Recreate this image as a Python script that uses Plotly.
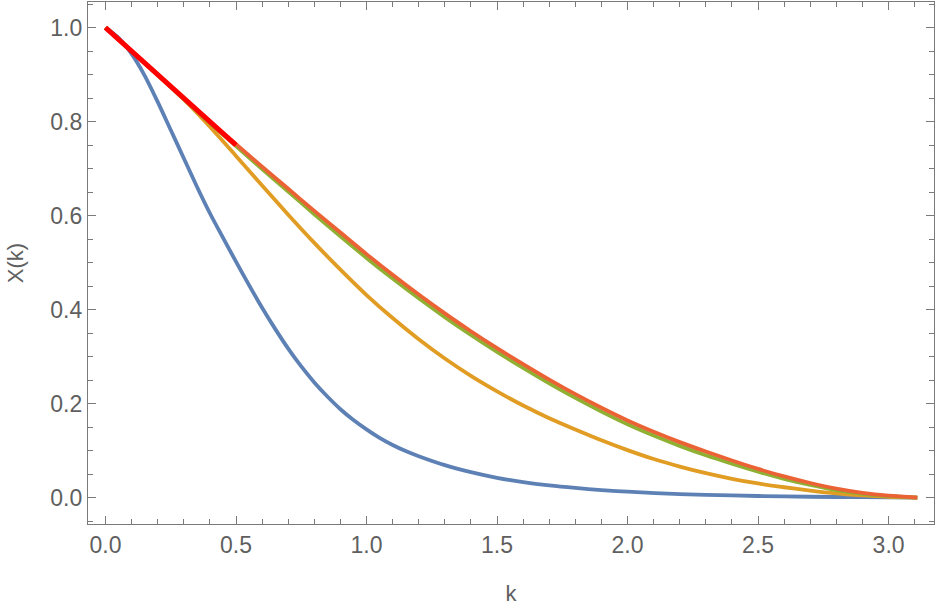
import plotly.graph_objects as go

k_blue = [0.0, 0.05, 0.1, 0.15, 0.2, 0.25, 0.3, 0.35, 0.4, 0.45, 0.5, 0.55, 0.6, 0.65, 0.7, 0.75, 0.8,
          0.85, 0.9, 0.95, 1.0, 1.05, 1.1, 1.15, 1.2, 1.3, 1.4, 1.5, 1.6, 1.7, 1.8, 1.9, 2.0,
          2.2, 2.4, 2.6, 2.8, 3.0, 3.11]
x_blue = [1.0, 0.978, 0.944, 0.898, 0.842, 0.782, 0.722, 0.662, 0.605, 0.553, 0.502, 0.452, 0.404, 0.359, 0.317, 0.279, 0.245,
          0.215, 0.188, 0.165, 0.145, 0.127, 0.112, 0.099, 0.088, 0.069, 0.054, 0.042, 0.033, 0.026, 0.0205, 0.016, 0.0125,
          0.0075, 0.0045, 0.0025, 0.0012, 0.0004, 0.0]

k_grid = [0.0, 0.1, 0.2, 0.3, 0.4, 0.5, 0.6, 0.7, 0.8, 0.9, 1.0, 1.1, 1.2, 1.3, 1.4, 1.5,
          1.6, 1.7, 1.8, 1.9, 2.0, 2.1, 2.2, 2.3, 2.4, 2.5, 2.6, 2.7, 2.8, 2.9, 3.0, 3.11]
x_orange = [1.0, 0.95, 0.90, 0.847, 0.789, 0.727, 0.664, 0.602, 0.542, 0.485, 0.431, 0.382, 0.337, 0.296, 0.259, 0.226,
            0.196, 0.169, 0.145, 0.122, 0.101, 0.082, 0.066, 0.052, 0.040, 0.030, 0.022, 0.015, 0.009, 0.0045, 0.0015, 0.0]
x_green = [1.0, 0.95, 0.899, 0.848, 0.797, 0.748, 0.699, 0.651, 0.603, 0.556, 0.51, 0.466, 0.424, 0.384, 0.346, 0.31,
           0.276, 0.243, 0.212, 0.183, 0.156, 0.132, 0.11, 0.09, 0.072, 0.055, 0.04, 0.027, 0.016, 0.008, 0.003, 0.0]
x_redorange = [1.0, 0.95, 0.90, 0.85, 0.80, 0.752, 0.704, 0.657, 0.61, 0.564, 0.518, 0.474, 0.432, 0.392, 0.354, 0.318,
               0.284, 0.251, 0.22, 0.191, 0.164, 0.14, 0.118, 0.098, 0.079, 0.061, 0.045, 0.031, 0.019, 0.010, 0.004, 0.0]

k_red = [0.0, 0.5]
x_red = [1.0, 0.75]

x_ticks = [0.0, 0.5, 1.0, 1.5, 2.0, 2.5, 3.0]
y_ticks = [0.0, 0.2, 0.4, 0.6, 0.8, 1.0]

FONT = "Liberation Sans, Arial, sans-serif"
TXT = "#5f5f5f"
AX = "#7a7a7a"

fig = go.Figure()
fig.add_trace(go.Scatter(x=k_blue, y=x_blue, mode="lines",
                         line=dict(color="#5E81B5", width=3.8, shape="spline", smoothing=0.8)))
fig.add_trace(go.Scatter(x=k_grid, y=x_orange, mode="lines",
                         line=dict(color="#E19C24", width=3.8, shape="spline", smoothing=0.8)))
fig.add_trace(go.Scatter(x=k_grid, y=x_green, mode="lines",
                         line=dict(color="#8FB032", width=3.8, shape="spline", smoothing=0.8)))
fig.add_trace(go.Scatter(x=k_grid, y=x_redorange, mode="lines",
                         line=dict(color="#EB6235", width=3.8, shape="spline", smoothing=0.8)))
fig.add_trace(go.Scatter(x=k_red, y=x_red, mode="lines", line=dict(color="#FF0000", width=5)))

axis_common = dict(
    showgrid=False, zeroline=False, showline=True, linecolor=AX, linewidth=1.3,
    mirror="allticks", ticks="inside", ticklen=8, tickwidth=1.2, tickcolor=AX,
    tickfont=dict(family=FONT, size=23, color=TXT),
)

fig.update_xaxes(
    range=[-0.067, 3.174], tickvals=x_ticks, ticktext=[f"{v:.1f}" for v in x_ticks],
    minor=dict(dtick=0.1, tick0=0, ticks="inside", ticklen=4.5, tickcolor=AX, tickwidth=1),
    title=dict(text="k", font=dict(family=FONT, size=22, color=TXT), standoff=28),
    **axis_common,
)
fig.update_yaxes(
    range=[-0.0562, 1.0545], tickvals=y_ticks, ticktext=[f"{v:.1f}" for v in y_ticks],
    minor=dict(dtick=0.05, tick0=0, ticks="inside", ticklen=4.5, tickcolor=AX, tickwidth=1),
    title=dict(text="X(k)", font=dict(family=FONT, size=22, color=TXT), standoff=20),
    **axis_common,
)

fig.update_layout(
    width=938, height=613,
    margin=dict(l=88, r=4, t=2, b=89, autoexpand=False),
    paper_bgcolor="white", plot_bgcolor="white",
    showlegend=False,
)

fig.write_html("out.html")
